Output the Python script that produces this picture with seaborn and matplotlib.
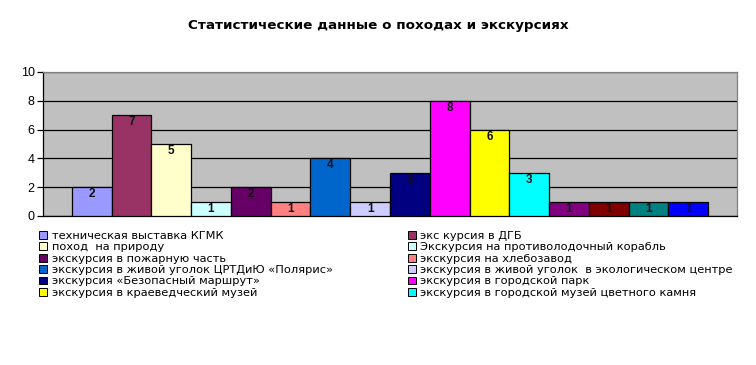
import numpy as np
import pandas as pd
import seaborn as sns
import matplotlib.pyplot as plt
from matplotlib.patches import Patch

# --- data ---
labels = [
    'техническая выставка КГМК',
    'экс курсия в ДГБ',
    'поход  на природу',
    'Экскурсия на противолодочный корабль',
    'экскурсия в пожарную часть',
    'экскурсия на хлебозавод',
    'экскурсия в живой уголок ЦРТДиЮ «Полярис»',
    'экскурсия в живой уголок  в экологическом центре',
    'экскурсия «Безопасный маршрут»',
    'экскурсия в городской парк',
    'экскурсия в краеведческий музей',
    'экскурсия в городской музей цветного камня',
]
values = [2, 7, 5, 1, 2, 1, 4, 1, 3, 8, 6, 3, 1, 1, 1, 1]
colors = ['#9999FF', '#993366', '#FFFFCC', '#CCFFFF', '#660066', '#FF8080',
          '#0066CC', '#CCCCFF', '#000080', '#FF00FF', '#FFFF00', '#00FFFF',
          '#800080', '#800000', '#008080', '#0000FF']
title = 'Статистические данные о походах и экскурсиях'

sns.set_style('white')
plt.rcParams['font.family'] = ['Liberation Sans', 'DejaVu Sans']
plt.rcParams['text.color'] = 'black'
plt.rcParams['ytick.labelcolor'] = 'black'

df = pd.DataFrame({'pos': range(len(values)), 'val': values})

fig = plt.figure(figsize=(7.56, 3.65), dpi=100)
ax = fig.add_axes([43 / 756, 1 - 216 / 365, 694 / 756, 144 / 365])
ax.set_facecolor('#C0C0C0')

sns.barplot(data=df, x='pos', y='val', hue='pos', palette=colors, width=1,
            saturation=1, legend=False, edgecolor='black', linewidth=0.9,
            ax=ax, zorder=3)

ax.set_ylim(0, 10)
ax.set_xlim(-0.5 - 0.725, len(values) - 0.5 + 0.725)
ax.set_yticks(range(0, 11, 2))
ax.yaxis.grid(True, color='black', linewidth=0.9, zorder=1)
ax.set_axisbelow(True)
ax.set_xticks([])
ax.set_xlabel('')
ax.set_ylabel('')
ax.tick_params(axis='y', length=4, width=0.9, color='black', labelcolor='black',
               labelsize=9, pad=2, left=True)
for side in ['top', 'right']:
    ax.spines[side].set_color('#808080')
    ax.spines[side].set_linewidth(0.9)
for side in ['left', 'bottom']:
    ax.spines[side].set_color('black')
    ax.spines[side].set_linewidth(0.9)

for p, v in zip(ax.patches, values):
    ax.annotate(str(v), (p.get_x() + p.get_width() / 2, v), xytext=(0, -5),
                textcoords='offset points', ha='center', va='center',
                fontsize=8.5, fontweight='bold', color='#111111', zorder=5)

fig.text(0.5, 1 - 25 / 365, title, ha='center', va='center', color='black',
         fontsize=9.7, fontweight='bold', family='DejaVu Sans')

# legend: two columns, row-major order like the original
handles = [Patch(facecolor=c, edgecolor='black', linewidth=0.7) for c in colors[:len(labels)]]
order = list(range(0, len(labels), 2)) + list(range(1, len(labels), 2))
leg = fig.legend([handles[i] for i in order], [labels[i] for i in order],
                 ncol=2, loc='upper left', bbox_to_anchor=(39 / 756, 1 - 231 / 365),
                 frameon=False, prop={'family': 'DejaVu Sans', 'size': 8.2},
                 labelcolor='black', handlelength=0.7, handleheight=0.7,
                 handletextpad=0.4, labelspacing=0.12, columnspacing=6.6,
                 borderpad=0, borderaxespad=0)

fig.savefig('out.png', dpi=100)
